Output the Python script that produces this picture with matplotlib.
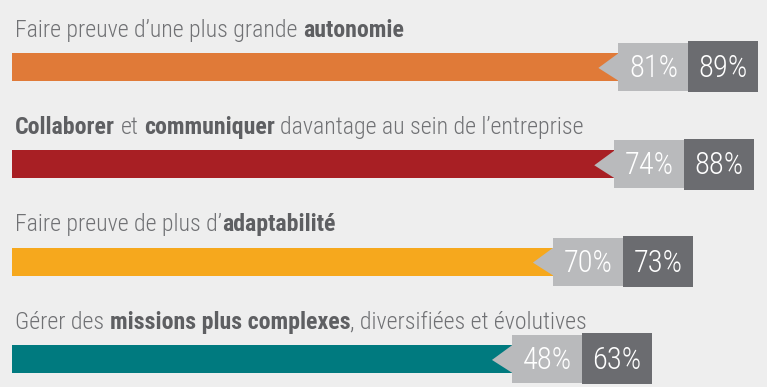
import matplotlib
matplotlib.use("Agg")
import matplotlib.pyplot as plt
from matplotlib.patches import Rectangle, Polygon

# ---- data ----
label_parts = [
    [("Faire preuve d\u2019une plus grande", False), ("autonomie", True)],
    [("Collaborer", True), ("et", False), ("communiquer", True),
     ("davantage au sein de l\u2019entreprise", False)],
    [("Faire preuve de plus d\u2019", False), ("adaptabilit\u00e9", True)],
    [("G\u00e9rer des", False), ("missions plus complexes", True),
     (", diversifi\u00e9es et \u00e9volutives", False)],
]
# whether a space precedes each part
space_before = [
    [False, True],
    [False, True, True, True],
    [False, False],
    [False, True, False],
]
values_first = [81, 74, 70, 48]
values_second = [89, 88, 73, 63]
bar_colors = ["#E07A38", "#A81F24", "#F6A81D", "#007A7F"]

# ---- style ----
BG = "#EEEEEE"
LIGHT_BOX = "#B9BABC"
DARK_BOX = "#6B6C70"
TEXT_COL = "#707174"
BOLD_COL = "#5E5F62"
FONT = "Roboto Condensed"

W, H = 767, 387
fig = plt.figure(figsize=(W / 100, H / 100), dpi=100, facecolor=BG)
ax = fig.add_axes([0, 0, 1, 1])
ax.set_facecolor(BG)
ax.set_xlim(-96.3, 91.1)
ax.set_ylim(3.288, -0.688)
ax.axis("off")

LEFT = -93.3       # bar start
BOX_W = 17.1       # width of each value box
ARROW = 4.9        # arrow depth
BAR_H = 0.288
LBOX_H = 0.493
DBOX_H = 0.524

n = len(values_second)
ypos = list(range(n))
ends = [v - 2 * BOX_W for v in values_second]
ax.barh(ypos, [e - LEFT for e in ends], left=LEFT, height=BAR_H,
        color=bar_colors, edgecolor="none", zorder=1)

for i, (v1, v2) in enumerate(zip(values_first, values_second)):
    y = ypos[i]
    lx = v2 - 2 * BOX_W
    dx = v2 - BOX_W
    ax.add_patch(Rectangle((lx, y - LBOX_H / 2), BOX_W, LBOX_H,
                           facecolor=LIGHT_BOX, edgecolor="none", zorder=2))
    ax.add_patch(Polygon([(lx + 0.1, y - BAR_H / 2), (lx - ARROW, y + 0.01),
                          (lx + 0.1, y + BAR_H / 2)], closed=True,
                         facecolor=LIGHT_BOX, edgecolor="none", zorder=2))
    ax.add_patch(Rectangle((dx, y - DBOX_H / 2), BOX_W, DBOX_H,
                           facecolor=DARK_BOX, edgecolor="none", zorder=3))
    ax.text(lx + BOX_W / 2, y + 0.015, f"{v1}%", ha="center", va="center",
            color="white", fontsize=22, family=FONT, fontweight=300, zorder=4)
    ax.text(dx + BOX_W / 2, y + 0.015, f"{v2}%", ha="center", va="center",
            color="white", fontsize=22, family=FONT, fontweight=300, zorder=4)

# ---- labels with mixed weights ----
fig.canvas.draw()
renderer = fig.canvas.get_renderer()
LABEL_SIZE = 17.2


def width_px(s, weight):
    t = ax.text(0, 0, s, fontsize=LABEL_SIZE, family=FONT, fontweight=weight)
    bb = t.get_window_extent(renderer)
    t.remove()
    return bb.width


px_per_unit = ax.transData.transform((1, 0))[0] - ax.transData.transform((0, 0))[0]
space_px = width_px("a a", 300) - width_px("aa", 300)

for i, parts in enumerate(label_parts):
    x = LEFT + 0.7
    y = ypos[i] - 0.31
    for j, (s, bold) in enumerate(parts):
        if space_before[i][j]:
            x += space_px / px_per_unit
        w = "bold" if bold else 300
        t = ax.text(x, y, s, fontsize=LABEL_SIZE, family=FONT, fontweight=w,
                    color=BOLD_COL if bold else TEXT_COL, va="baseline", ha="left")
        bb = t.get_window_extent(renderer)
        x += bb.width / px_per_unit

fig.savefig("out.png", dpi=100, facecolor=BG)
